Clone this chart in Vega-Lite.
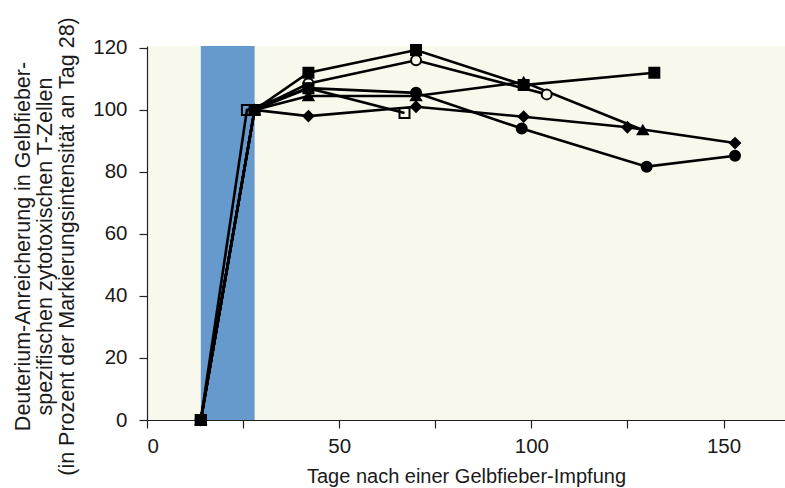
{
  "$schema": "https://vega.github.io/schema/vega-lite/v6.json",
  "width": 638,
  "height": 374,
  "autosize": {"type": "none"},
  "padding": {"left": 147, "top": 46, "right": 0, "bottom": 68},
  "background": "white",
  "config": {
    "view": {"fill": "#f8f8ed", "stroke": null},
    "font": "Liberation Sans",
    "axis": {
      "domainColor": "#222222",
      "tickColor": "#222222",
      "labelColor": "#1a1a1a",
      "titleColor": "#1a1a1a",
      "labelFont": "Liberation Sans",
      "titleFont": "Liberation Sans",
      "labelFontSize": 20.5,
      "titleFontSize": 20,
      "titleFontWeight": "normal",
      "tickSize": 8,
      "domainWidth": 1.2,
      "tickWidth": 1.2,
      "grid": false
    }
  },
  "datasets": {
    "series": [
      {"s": "A", "day": 14, "v": 0}, {"s": "A", "day": 28, "v": 100}, {"s": "A", "day": 42, "v": 112}, {"s": "A", "day": 70, "v": 119.3}, {"s": "A", "day": 98, "v": 108}, {"s": "A", "day": 132, "v": 112},
      {"s": "B", "day": 14, "v": 0}, {"s": "B", "day": 28, "v": 100}, {"s": "B", "day": 42, "v": 108.5}, {"s": "B", "day": 70, "v": 116}, {"s": "B", "day": 104, "v": 105},
      {"s": "C", "day": 14, "v": 0}, {"s": "C", "day": 28, "v": 100}, {"s": "C", "day": 42, "v": 107}, {"s": "C", "day": 70, "v": 105.5}, {"s": "C", "day": 97.5, "v": 94}, {"s": "C", "day": 130, "v": 81.7}, {"s": "C", "day": 153, "v": 85.2},
      {"s": "D", "day": 14, "v": 0}, {"s": "D", "day": 28, "v": 100}, {"s": "D", "day": 42, "v": 104.5}, {"s": "D", "day": 70, "v": 104.5}, {"s": "D", "day": 98, "v": 109}, {"s": "D", "day": 129, "v": 93.5},
      {"s": "E", "day": 14, "v": 0}, {"s": "E", "day": 28, "v": 100}, {"s": "E", "day": 42, "v": 98}, {"s": "E", "day": 70, "v": 101}, {"s": "E", "day": 98, "v": 97.8}, {"s": "E", "day": 125, "v": 94.4}, {"s": "E", "day": 153, "v": 89.3},
      {"s": "F", "day": 14, "v": 0}, {"s": "F", "day": 26, "v": 100}, {"s": "F", "day": 42, "v": 107}, {"s": "F", "day": 67, "v": 99}
    ],
    "band": [{"start": 14, "end": 28}]
  },
  "layer": [
    {
      "data": {"name": "band"},
      "mark": {"type": "rect", "color": "#6699cc"},
      "encoding": {
        "x": {"field": "start", "type": "quantitative", "scale": {"domain": [0, 166], "nice": false}},
        "x2": {"field": "end"}
      }
    },
    {
      "data": {"name": "series"},
      "mark": {"type": "line", "color": "black", "strokeWidth": 2.6},
      "encoding": {
        "x": {"field": "day", "type": "quantitative", "scale": {"domain": [0, 166], "nice": false},
          "axis": {"values": [0, 25, 50, 75, 100, 125, 150], "labelExpr": "datum.value % 50 === 0 ? datum.label : ''", "title": "Tage nach einer Gelbfieber-Impfung", "labelPadding": 8, "titlePadding": 10}},
        "y": {"field": "v", "type": "quantitative", "scale": {"domain": [0, 120.6], "nice": false},
          "axis": {"values": [0, 10, 20, 30, 40, 50, 60, 70, 80, 90, 100, 110, 120], "labelExpr": "datum.value % 20 === 0 ? datum.label : ''",
            "title": ["Deuterium-Anreicherung in Gelbfieber-", "spezifischen zytotoxischen T-Zellen", "(in Prozent der Markierungsintensität an Tag 28)"],
            "labelPadding": 12, "titlePadding": 14, "titleLineHeight": 22, "titleFontSize": 21.5, "titleY": 200}},
        "detail": {"field": "s"}
      }
    },
    {
      "data": {"name": "series"},
      "mark": {"type": "point", "stroke": "black", "strokeWidth": 2, "opacity": 1},
      "encoding": {
        "x": {"field": "day", "type": "quantitative"},
        "y": {"field": "v", "type": "quantitative"},
        "shape": {"field": "s", "type": "nominal", "legend": null,
          "scale": {"domain": ["A", "B", "C", "D", "E", "F"], "range": ["square", "circle", "circle", "triangle-up", "diamond", "square"]}},
        "fill": {"field": "s", "type": "nominal", "legend": null,
          "scale": {"domain": ["A", "B", "C", "D", "E", "F"], "range": ["black", "#f8f8ed", "black", "black", "black", "transparent"]}},
        "size": {"value": 100}
      }
    }
  ]
}
